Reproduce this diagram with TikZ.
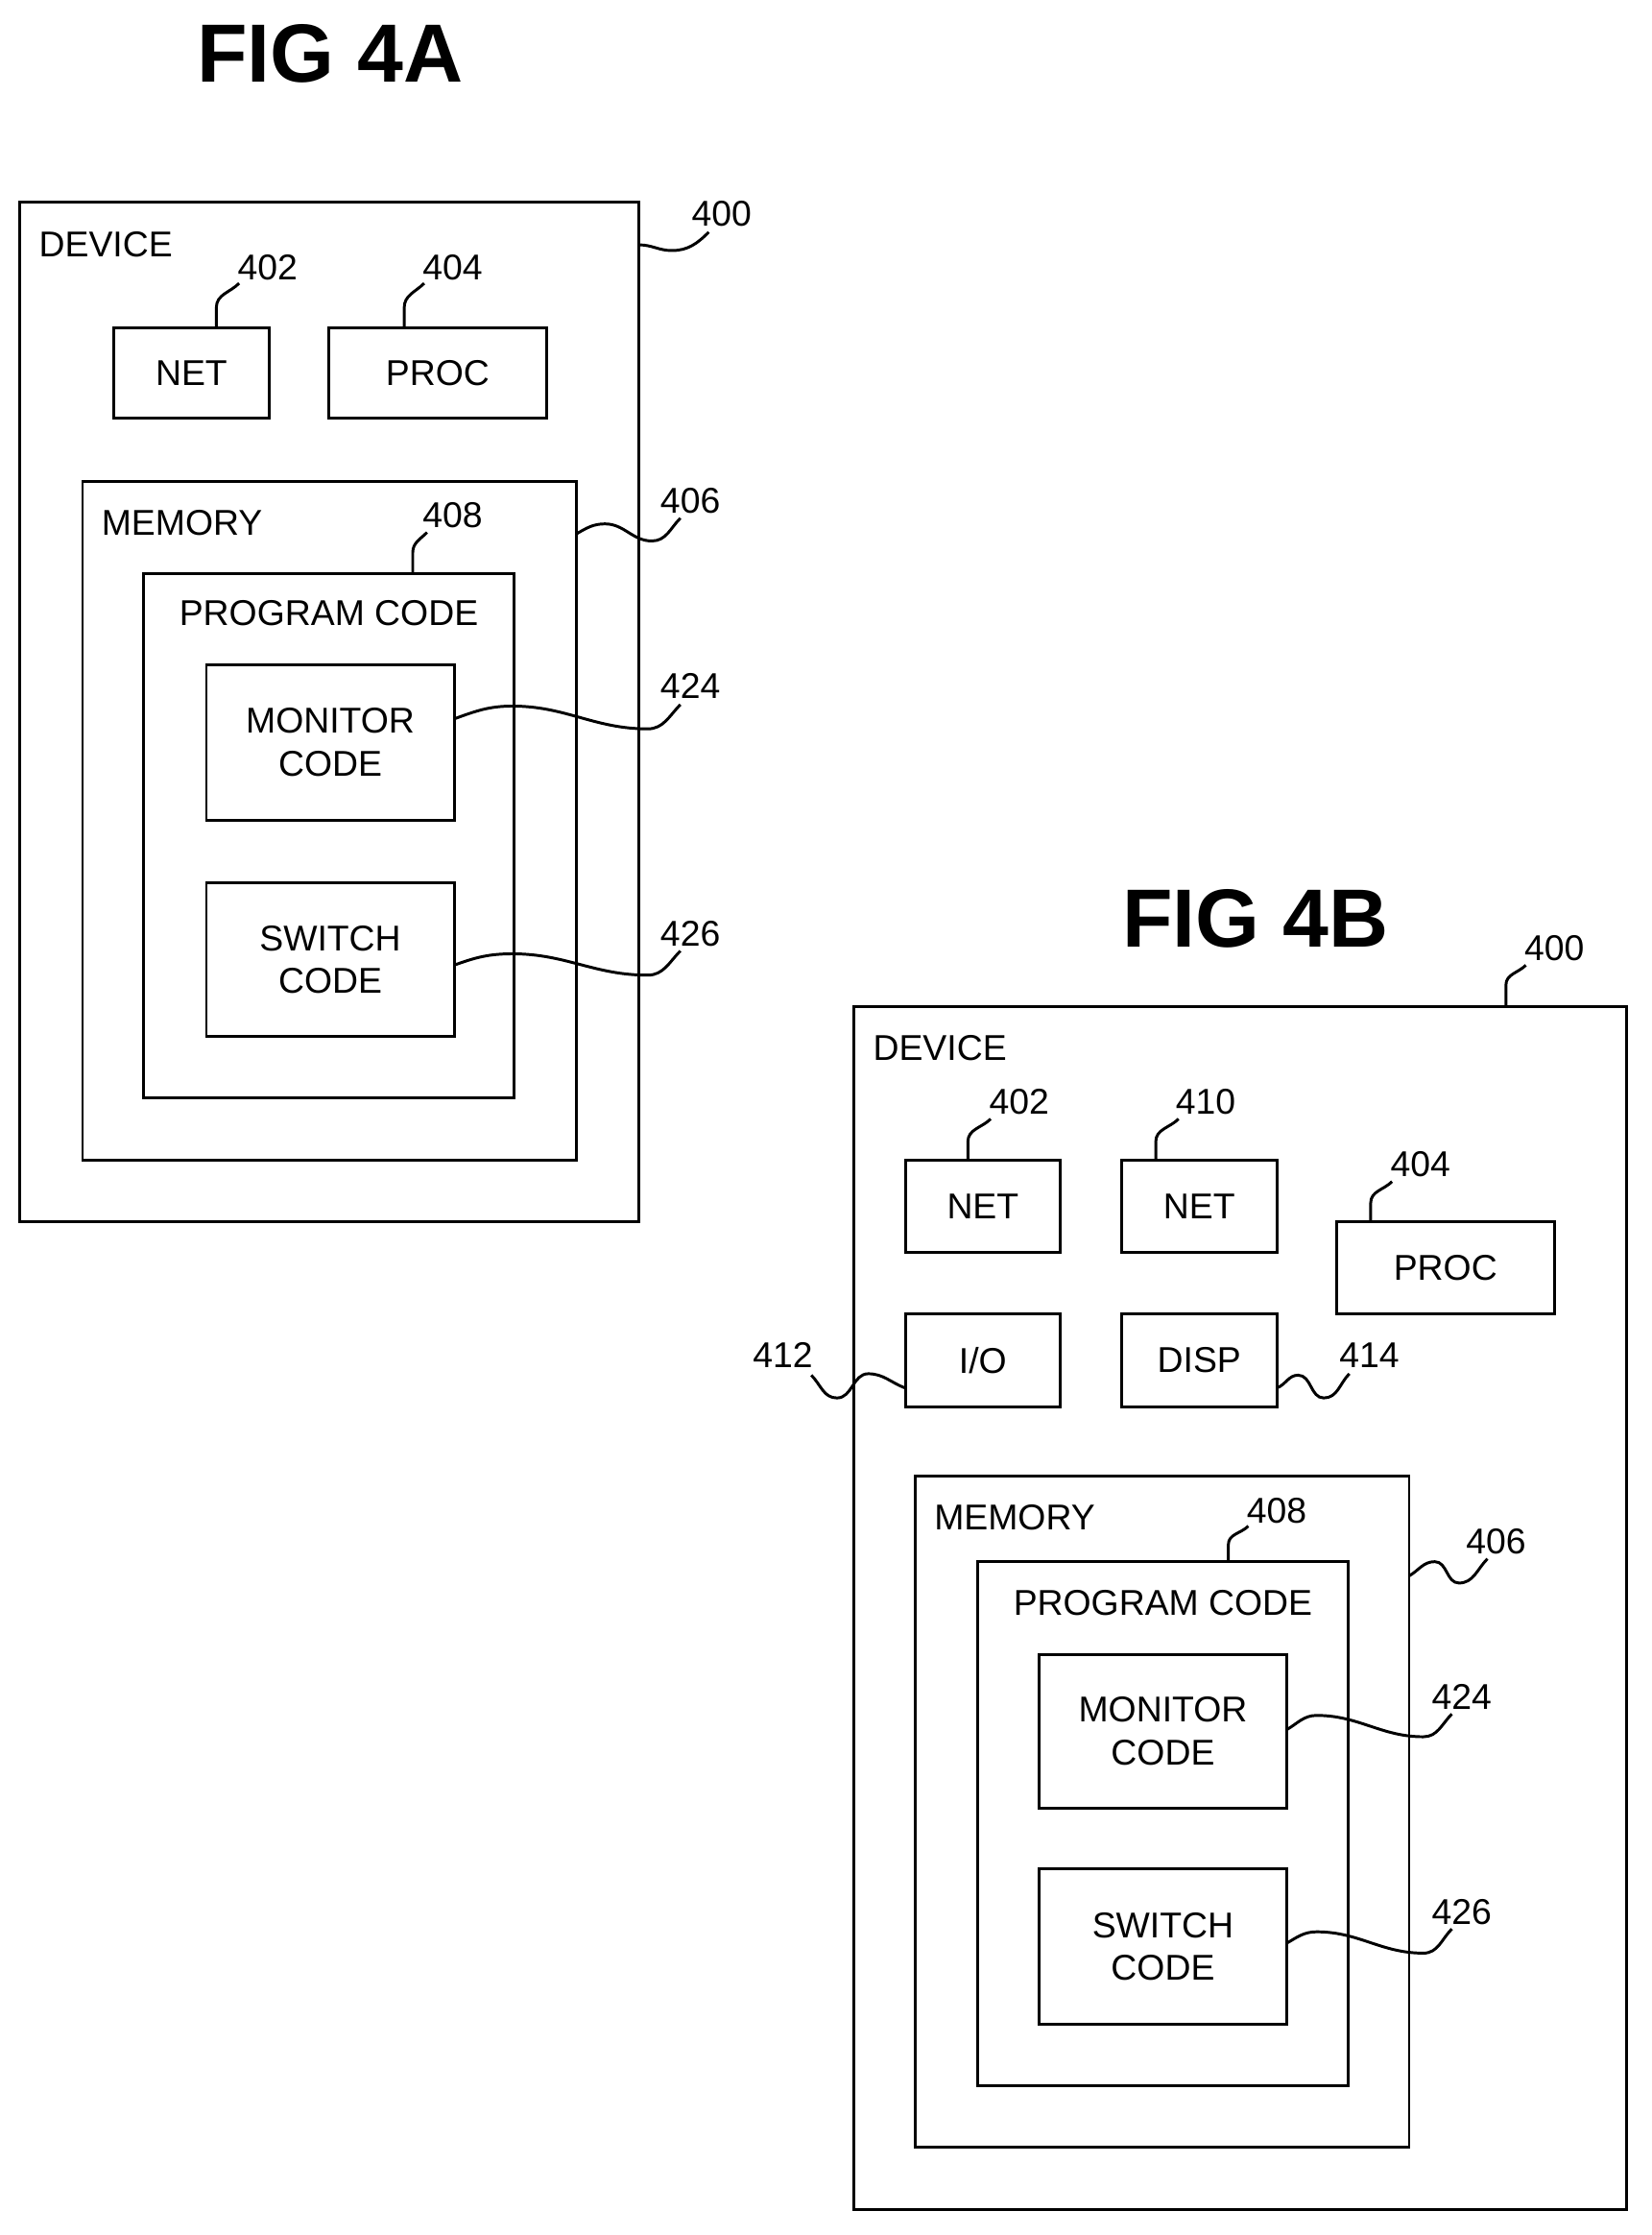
\documentclass[tikz,border=0pt]{standalone}
\usepackage{fontspec}
\setmainfont{Liberation Sans}
\usetikzlibrary{fit}
\newcommand{\bx}[5]{\path (#2,#3) coordinate (#1-a) (#4,#5) coordinate (#1-b);
  \node[box, fit=(#1-a)(#1-b)] (#1) {};}
\begin{document}
\begin{tikzpicture}[x=0.5pt,y=-0.5pt,
  box/.style={draw, line width=1pt, inner sep=0pt},
  txt/.style={font=\fontsize{12.6}{15}\selectfont, inner sep=0pt, align=center},
  lbl/.style={font=\fontsize{12.6}{15}\selectfont, inner sep=0pt},
  title/.style={font=\fontsize{29}{34}\selectfont\bfseries, inner sep=0pt},
  lead/.style={line width=1pt}]
\useasboundingbox (0,0) rectangle (1160,1570);
% ---------- FIG 4A
\node[title] (t4a) at (232,38) {FIG 4A};
\bx{dev}{14}{142}{449}{858}
\node[lbl, anchor=west] (devl) at (27,172) {DEVICE};
\node[lbl] (l400) at (507,150) {400};
\coordinate (e400) at (498,163);
\draw[lead] (449,172) coordinate (s400) to[out=0,in=180] (472,176) to[out=0,in=225] (e400);
\bx{net}{80}{230}{189}{294}
\node[txt] at (net) {NET};
\node[lbl] (l402) at (188,188) {402};
\draw[lead] (152,230) to[out=90,in=-90] (152,216) to[out=90,in=225] (168,199);
\bx{proc}{231}{230}{384}{294}
\node[txt] at (proc) {PROC};
\node[lbl] (l404) at (318,188) {404};
\draw[lead] (284,230) to[out=90,in=-90] (284,216) to[out=90,in=225] (298,199);
\bx{mem}{58}{338}{405}{815}
\node[lbl, anchor=west] (meml) at (71,367) {MEMORY};
\node[lbl] (l406) at (485,352) {406};
\draw[lead] (405,375) to[out=30,in=180] (425,368) to[out=0,in=180] (458,380) to[out=0,in=225] (478,364);
\bx{pc}{101}{403}{361}{771}
\node[txt] at (231,431) {PROGRAM CODE};
\node[lbl] (l408) at (318,362) {408};
\draw[lead] (290,403) to[out=90,in=-90] (290,388) to[out=90,in=225] (300,374);
\bx{mon}{145}{467}{319}{576}
\node[txt] at (mon) {MONITOR\\CODE};
\node[lbl] (l424) at (485,482) {424};
\draw[lead] (319,505) to[out=20,in=180] (360,496) to[out=0,in=180] (455,512) to[out=0,in=225] (478,495);
\bx{sw}{145}{620}{319}{728}
\node[txt] at (sw) {SWITCH\\CODE};
\node[lbl] (l426) at (485,656) {426};
\draw[lead] (319,678) to[out=20,in=180] (360,670) to[out=0,in=180] (455,685) to[out=0,in=225] (478,668);
% ---------- FIG 4B
\node[title] (t4b) at (882,645) {FIG 4B};
\bx{devb}{600}{707}{1143}{1552}
\node[lbl, anchor=west] (devbl) at (613,736) {DEVICE};
\node[lbl] (m400) at (1092,666) {400};
\draw[lead] (1058,707) to[out=90,in=-90] (1058,692) to[out=90,in=225] (1072,678);
\bx{netb}{636}{815}{745}{880}
\node[txt] at (netb) {NET};
\node[lbl] (m402) at (716,774) {402};
\draw[lead] (680,815) to[out=90,in=-90] (680,802) to[out=90,in=225] (696,786);
\bx{netc}{788}{815}{897}{880}
\node[txt] at (netc) {NET};
\node[lbl] (m410) at (847,774) {410};
\draw[lead] (812,815) to[out=90,in=-90] (812,802) to[out=90,in=225] (828,786);
\bx{procb}{939}{858}{1092}{923}
\node[txt] at (procb) {PROC};
\node[lbl] (m404) at (998,818) {404};
\draw[lead] (963,858) to[out=90,in=-90] (963,845) to[out=90,in=225] (978,830);
\bx{io}{636}{923}{745}{988}
\node[txt] at (io) {I/O};
\node[lbl] (m412) at (550,952) {412};
\draw[lead] (636,975) to[out=160,in=0] (610,965) to[out=180,in=0] (588,982) to[out=180,in=-45] (570,966);
\bx{disp}{788}{923}{897}{988}
\node[txt] at (disp) {DISP};
\node[lbl] (m414) at (962,952) {414};
\draw[lead] (897,975) to[out=20,in=180] (912,966) to[out=0,in=180] (930,982) to[out=0,in=225] (948,965);
\bx{memb}{643}{1037}{990}{1508}
\node[lbl, anchor=west] (membl) at (656,1066) {MEMORY};
\node[lbl] (m406) at (1051,1083) {406};
\draw[lead] (990,1107) to[out=30,in=180] (1008,1097) to[out=0,in=180] (1025,1112) to[out=0,in=225] (1045,1095);
\bx{pcb}{687}{1097}{947}{1465}
\node[txt] at (817,1126) {PROGRAM CODE};
\node[lbl] (m408) at (897,1061) {408};
\draw[lead] (863,1097) to[out=90,in=-90] (863,1085) to[out=90,in=225] (877,1072);
\bx{monb}{730}{1162}{904}{1270}
\node[txt] at (monb) {MONITOR\\CODE};
\node[lbl] (m424) at (1027,1192) {424};
\draw[lead] (904,1215) to[out=30,in=180] (925,1205) to[out=0,in=180] (1000,1220) to[out=0,in=225] (1020,1204);
\bx{swb}{730}{1313}{904}{1422}
\node[txt] at (swb) {SWITCH\\CODE};
\node[lbl] (m426) at (1027,1343) {426};
\draw[lead] (904,1365) to[out=30,in=180] (925,1357) to[out=0,in=180] (1000,1372) to[out=0,in=225] (1020,1355);
\end{tikzpicture}
\end{document}
